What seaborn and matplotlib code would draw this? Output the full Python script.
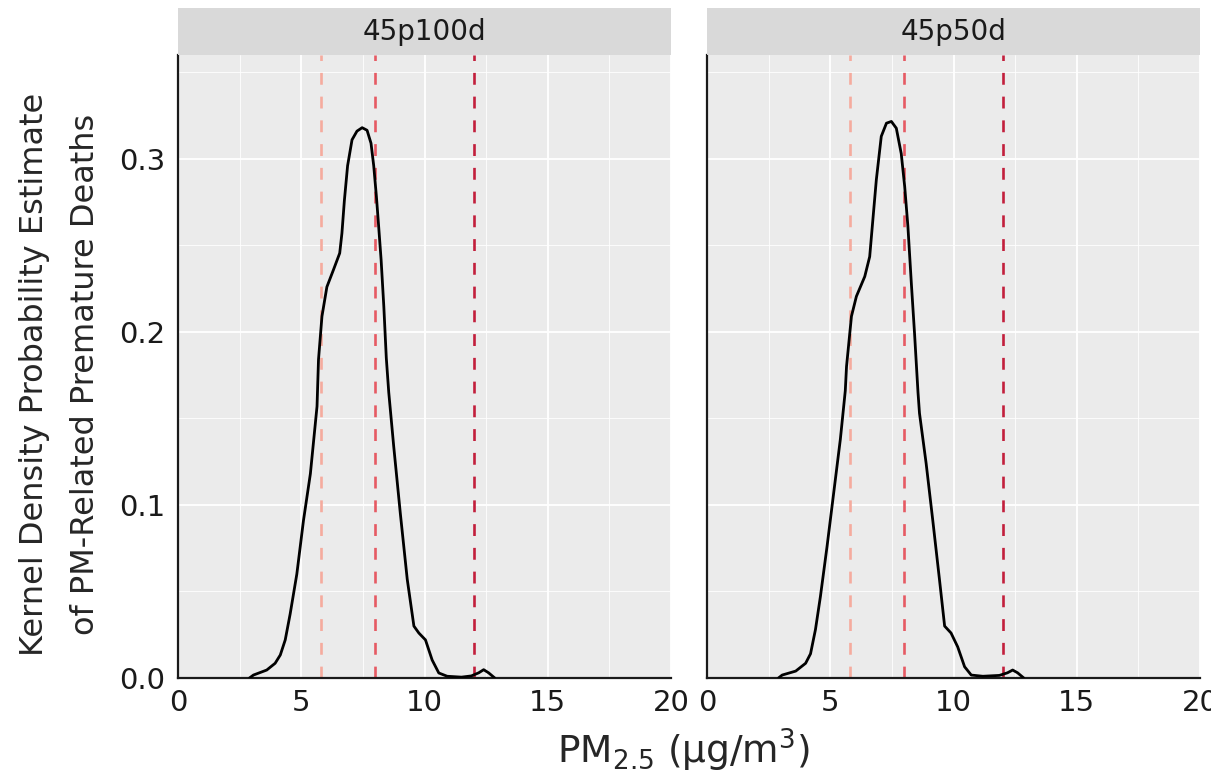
"""Kernel density of PM-related premature deaths, faceted by scenario."""

import matplotlib

matplotlib.use("Agg")

import matplotlib.pyplot as plt
import pandas as pd
import seaborn as sns
from matplotlib.transforms import Bbox, TransformedBbox

PANELS = ["45p100d", "45p50d"]

# density curves
X_100D = [2.9, 3.06, 3.6, 3.94, 4.15, 4.35, 4.55, 4.82, 5.09, 5.37, 5.64, 5.70,
          5.84, 6.04, 6.31, 6.56, 6.65, 6.75, 6.88, 7.06, 7.26, 7.47, 7.67, 7.83,
          7.94, 8.05, 8.14, 8.24, 8.35, 8.45, 8.55, 8.75, 9.02, 9.30, 9.57, 9.77,
          10.04, 10.31, 10.58, 10.92, 11.5, 11.9, 12.2, 12.4, 12.6, 12.85]
Y_100D = [0.0, 0.0017, 0.0046, 0.0085, 0.0133, 0.022, 0.037, 0.060, 0.091, 0.118,
          0.157, 0.184, 0.209, 0.226, 0.236, 0.2455, 0.257, 0.276, 0.296, 0.311,
          0.316, 0.318, 0.3165, 0.309, 0.296, 0.278, 0.261, 0.2416, 0.2146, 0.185,
          0.165, 0.134, 0.095, 0.057, 0.030, 0.026, 0.022, 0.0104, 0.0029, 0.001,
          0.0005, 0.0012, 0.003, 0.0048, 0.003, 0.0]

X_50D = [2.9, 3.05, 3.6, 4.0, 4.2, 4.4, 4.6, 4.87, 5.14, 5.41, 5.61, 5.66, 5.86,
         6.06, 6.40, 6.60, 6.73, 6.87, 7.07, 7.28, 7.48, 7.68, 7.88, 8.02, 8.15,
         8.29, 8.42, 8.56, 8.62, 8.89, 9.16, 9.43, 9.64, 9.90, 10.17, 10.45, 10.72,
         11.19, 11.86, 12.19, 12.4, 12.6, 12.85]
Y_50D = [0.0, 0.0017, 0.004, 0.0085, 0.014, 0.028, 0.047, 0.076, 0.107, 0.138,
         0.166, 0.180, 0.209, 0.2205, 0.232, 0.2435, 0.265, 0.288, 0.313, 0.3206,
         0.3216, 0.3177, 0.303, 0.284, 0.261, 0.228, 0.199, 0.165, 0.153, 0.124,
         0.091, 0.057, 0.030, 0.026, 0.018, 0.0065, 0.0017, 0.001, 0.0015, 0.003,
         0.0046, 0.003, 0.0]

THRESHOLDS = [5.8, 8.0, 12.0]
THRESHOLD_COLORS = ["#f5ab9e", "#e65a63", "#c21f3c"]

X_TICKS = [0, 5, 10, 15, 20]
X_MINOR = [2.5, 7.5, 12.5, 17.5]
Y_TICKS = [0.0, 0.1, 0.2, 0.3]
Y_MINOR = [0.05, 0.15, 0.25, 0.35]
Y_TICK_LABELS = ["0.0", "0.1", "0.2", "0.3"]


def main() -> None:
    sns.set_theme(style="darkgrid")
    plt.rcParams["font.family"] = ["DejaVu Sans"]

    df = pd.concat([
        pd.DataFrame({"panel": PANELS[0], "pm": X_100D, "density": Y_100D}),
        pd.DataFrame({"panel": PANELS[1], "pm": X_50D, "density": Y_50D}),
    ])

    fig = plt.figure(figsize=(12.28, 7.82), dpi=100)
    W, H = 1228, 782
    panel_left = [178, 707]
    panel_w = 493
    top, bottom = 55, 678
    strip_h = 47
    # the reference image is cut just after the last tick label
    clip = TransformedBbox(Bbox([[0, 0], [1211 / W, 1]]), fig.transFigure)

    for i, name in enumerate(PANELS):
        ax = fig.add_axes([panel_left[i] / W, 1 - bottom / H, panel_w / W, (bottom - top) / H])
        ax.set_facecolor("#ebebeb")
        ax.set_xticks(X_MINOR, minor=True)
        ax.set_yticks(Y_MINOR, minor=True)
        ax.grid(which="major", color="white", linewidth=1.3)
        ax.grid(which="minor", color="white", linewidth=0.6)
        ax.set_axisbelow(True)

        for xv, col in zip(THRESHOLDS, THRESHOLD_COLORS):
            ax.axvline(xv, color=col, linewidth=1.9, linestyle=(0, (4.5, 4.5)), zorder=2)

        sns.lineplot(data=df[df["panel"] == name], x="pm", y="density",
                     color="black", linewidth=2.0, ax=ax, zorder=3)

        ax.set_xlim(0, 20)
        ax.set_ylim(0, 0.36)
        ax.set_xticks(X_TICKS)
        ax.set_xticklabels([str(t) for t in X_TICKS])
        ax.set_yticks(Y_TICKS)
        ax.set_xlabel("")
        ax.set_ylabel("")
        for side in ["top", "right"]:
            ax.spines[side].set_visible(False)
        for side in ["left", "bottom"]:
            ax.spines[side].set_visible(True)
            ax.spines[side].set_color("#1a1a1a")
            ax.spines[side].set_linewidth(1.6)
        ax.tick_params(axis="x", which="major", length=5, width=1.0, color="#333333",
                       labelsize=21, labelcolor="#1a1a1a", pad=3)
        ax.tick_params(which="minor", length=0)
        if i == 0:
            ax.set_yticklabels(Y_TICK_LABELS)
            ax.tick_params(axis="y", which="major", length=5, width=1.0, color="#333333",
                           labelsize=21, labelcolor="#1a1a1a", pad=4)
        else:
            ax.tick_params(axis="y", which="major", length=0, labelleft=False)
            for lab in ax.get_xticklabels():
                lab.set_clip_on(True)
                lab.set_clip_box(clip)

        strip = fig.add_axes([panel_left[i] / W, 1 - top / H, panel_w / W, strip_h / H])
        strip.set_facecolor("#d9d9d9")
        strip.set_xticks([])
        strip.set_yticks([])
        for s in strip.spines.values():
            s.set_visible(False)
        strip.text(0.5, 0.5, name, ha="center", va="center", fontsize=20, color="#1a1a1a")

    fig.text(60 / W, 1 - 374 / H,
             "Kernel Density Probability Estimate\nof PM-Related Premature Deaths",
             rotation=90, ha="center", va="center", fontsize=23, linespacing=1.85)
    fig.text(684 / W, 1 - 750 / H, "PM$_{\\mathregular{2.5}}$ (\u00b5g/m$^{\\mathregular{3}}$)",
             ha="center", va="center", fontsize=27)

    fig.savefig("out.png", dpi=100, facecolor="white")
    plt.close(fig)


if __name__ == "__main__":
    main()
